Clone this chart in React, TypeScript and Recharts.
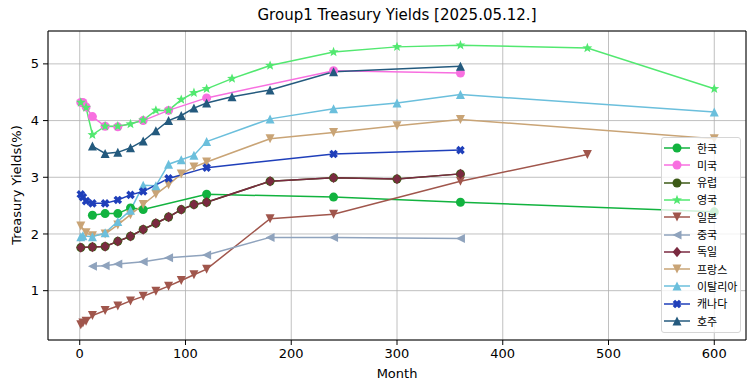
import React from 'react';
import { LineChart, Line, XAxis, YAxis, CartesianGrid, ReferenceArea } from 'recharts';

// maturities in months, yields in %
const krMonths = [12, 24, 36, 48, 60, 120, 240, 360, 600];
const krYields = [2.33, 2.36, 2.36, 2.46, 2.43, 2.7, 2.65, 2.56, 2.39];

const usMonths = [1, 3, 6, 12, 24, 36, 60, 84, 120, 240, 360];
const usYields = [4.32, 4.32, 4.24, 4.07, 3.9, 3.89, 4.0, 4.18, 4.4, 4.88, 4.84];

const ukMonths = [1, 6, 12, 24, 36, 48, 60, 72, 84, 96, 108, 120, 144, 180, 240, 300, 360, 480, 600];
const ukYields = [4.32, 4.23, 3.75, 3.9, 3.9, 3.94, 4.01, 4.18, 4.18, 4.37, 4.49, 4.56, 4.74, 4.97, 5.21, 5.3, 5.33, 5.28, 4.56];

const jpMonths = [1, 3, 6, 12, 24, 36, 48, 60, 72, 84, 96, 108, 120, 180, 240, 360, 480];
const jpYields = [0.4, 0.43, 0.46, 0.56, 0.65, 0.73, 0.82, 0.9, 0.99, 1.08, 1.18, 1.28, 1.38, 2.27, 2.35, 2.93, 3.4];

const cnMonths = [12, 24, 36, 60, 84, 120, 180, 240, 360];
const cnYields = [1.43, 1.44, 1.47, 1.51, 1.58, 1.63, 1.94, 1.94, 1.92];

const deMonths = [1, 12, 24, 36, 48, 60, 72, 84, 96, 108, 120, 180, 240, 300, 360];
const deYields = [1.76, 1.77, 1.78, 1.87, 1.96, 2.08, 2.19, 2.3, 2.43, 2.52, 2.56, 2.93, 2.99, 2.97, 3.06];

// 유럽 is hidden under 독일 (same curve)
const euMonths = deMonths;
const euYields = deYields;

const frMonths = [1, 6, 12, 24, 36, 48, 60, 72, 84, 96, 108, 120, 180, 240, 300, 360, 600];
const frYields = [2.14, 2.02, 1.97, 2.0, 2.16, 2.34, 2.52, 2.7, 2.87, 3.06, 3.18, 3.27, 3.68, 3.79, 3.91, 4.02, 3.68];

const itMonths = [1, 3, 12, 24, 36, 48, 60, 72, 84, 96, 108, 120, 180, 240, 300, 360, 600];
const itYields = [1.95, 1.97, 1.95, 2.02, 2.22, 2.42, 2.86, 2.85, 3.23, 3.31, 3.39, 3.63, 4.03, 4.21, 4.31, 4.46, 4.15];

const caMonths = [1, 3, 6, 12, 24, 36, 48, 60, 84, 120, 240, 360];
const caYields = [2.7, 2.65, 2.58, 2.54, 2.54, 2.6, 2.69, 2.75, 2.98, 3.17, 3.41, 3.48];

const auMonths = [12, 24, 36, 48, 60, 72, 84, 96, 108, 120, 144, 180, 240, 360];
const auYields = [3.55, 3.42, 3.44, 3.52, 3.64, 3.82, 4.0, 4.09, 4.22, 4.31, 4.42, 4.54, 4.86, 4.96];

const xTicks = [0, 100, 200, 300, 400, 500, 600];
const yTicks = [1, 2, 3, 4, 5];

const zip = (xs: number[], ys: number[]) => xs.map((x, i) => ({ x, y: ys[i] }));

type Shape = 'circle' | 'star' | 'tridown' | 'trileft' | 'triup' | 'diamond' | 'xfilled';

const SERIES: { name: string; color: string; shape: Shape; data: { x: number; y: number }[] }[] = [
  { name: '한국', color: '#12b33f', shape: 'circle', data: zip(krMonths, krYields) },
  { name: '미국', color: '#f86fe0', shape: 'circle', data: zip(usMonths, usYields) },
  { name: '유럽', color: '#3c5a16', shape: 'circle', data: zip(euMonths, euYields) },
  { name: '영국', color: '#52e870', shape: 'star', data: zip(ukMonths, ukYields) },
  { name: '일본', color: '#a0564c', shape: 'tridown', data: zip(jpMonths, jpYields) },
  { name: '중국', color: '#8fa3bd', shape: 'trileft', data: zip(cnMonths, cnYields) },
  { name: '독일', color: '#7a2a40', shape: 'diamond', data: zip(deMonths, deYields) },
  { name: '프랑스', color: '#c9a476', shape: 'tridown', data: zip(frMonths, frYields) },
  { name: '이탈리아', color: '#6bbfdc', shape: 'triup', data: zip(itMonths, itYields) },
  { name: '캐나다', color: '#1f3fba', shape: 'xfilled', data: zip(caMonths, caYields) },
  { name: '호주', color: '#245a7e', shape: 'triup', data: zip(auMonths, auYields) },
];

const FONT = '"DejaVu Sans", sans-serif';

function starPoints(cx: number, cy: number, ro: number, ri: number) {
  const pts: string[] = [];
  for (let i = 0; i < 10; i++) {
    const r = i % 2 === 0 ? ro : ri;
    const a = -Math.PI / 2 + (i * Math.PI) / 5;
    pts.push(`${cx + r * Math.cos(a)},${cy + r * Math.sin(a)}`);
  }
  return pts.join(' ');
}

function xPoints(cx: number, cy: number, a: number, e: number) {
  const base = [
    [a, e], [a, a], [e, a], [e, -a], [a, -a], [a, -e],
    [-a, -e], [-a, -a], [-e, -a], [-e, a], [-a, a], [-a, e],
  ];
  return base
    .map(([x, y]) => `${cx + (x - y) / Math.SQRT2},${cy + (x + y) / Math.SQRT2}`)
    .join(' ');
}

const Marker = ({ cx, cy, shape, color }: { cx: number; cy: number; shape: Shape; color: string }) => {
  if (cx == null || cy == null) return null;
  const r = 4.5;
  switch (shape) {
    case 'circle':
      return <circle cx={cx} cy={cy} r={r} fill={color} />;
    case 'star':
      return <polygon points={starPoints(cx, cy, 5.2, 2.2)} fill={color} />;
    case 'tridown':
      return <polygon points={`${cx - r},${cy - r} ${cx + r},${cy - r} ${cx},${cy + r}`} fill={color} />;
    case 'triup':
      return <polygon points={`${cx - r},${cy + r} ${cx + r},${cy + r} ${cx},${cy - r}`} fill={color} />;
    case 'trileft':
      return <polygon points={`${cx + r},${cy - r} ${cx + r},${cy + r} ${cx - r},${cy}`} fill={color} />;
    case 'diamond':
      return <polygon points={`${cx},${cy - 5.2} ${cx + 4.4},${cy} ${cx},${cy + 5.2} ${cx - 4.4},${cy}`} fill={color} />;
    case 'xfilled':
      return <polygon points={xPoints(cx, cy, 1.7, 4.4)} fill={color} />;
  }
  return null;
};

const LegendBox = () => (
  <div
    style={{
      position: 'absolute',
      left: 661,
      top: 137,
      width: 80,
      height: 196,
      background: 'rgba(255,255,255,0.8)',
      border: '1px solid #d6d6d6',
      borderRadius: 3,
      boxSizing: 'border-box',
    }}
  >
    {SERIES.map((s, i) => (
      <div
        key={s.name}
        style={{ position: 'absolute', left: 1, top: 1.5 + i * 17.3, height: 17, display: 'flex', alignItems: 'center' }}
      >
        <svg width={28} height={14}>
          <line x1={1} y1={7} x2={27} y2={7} stroke={s.color} strokeWidth={1.5} />
          <Marker cx={14} cy={7} shape={s.shape} color={s.color} />
        </svg>
        <span
          style={{
            marginLeft: 6,
            fontSize: 11,
            fontFamily: '"Noto Sans CJK KR", sans-serif',
            color: '#000',
            lineHeight: '17px',
          }}
        >
          {s.name}
        </span>
      </div>
    ))}
  </div>
);

export default function App() {
  return (
    <div style={{ position: 'absolute', left: 0, top: 0, width: 755, height: 391, background: '#fff' }}>
      <div
        style={{
          position: 'absolute',
          left: 48,
          width: 698,
          top: 6,
          textAlign: 'center',
          fontFamily: FONT,
          fontSize: 15,
          color: '#000',
        }}
      >
        Group1 Treasury Yields [2025.05.12.]
      </div>
      <LineChart width={755} height={391} margin={{ top: 31, right: 9, left: 0, bottom: 0 }}>
        <CartesianGrid stroke="#b0b0b0" strokeWidth={0.8} />
        <XAxis
          dataKey="x"
          type="number"
          domain={[-30, 630]}
          ticks={xTicks}
          allowDataOverflow
          height={51}
          tickSize={5}
          tickMargin={4}
          axisLine={false}
          tickLine={{ stroke: '#000' }}
          tick={{ fontSize: 13, fill: '#000', fontFamily: FONT }}
        />
        <YAxis
          type="number"
          domain={[0.13, 5.58]}
          ticks={yTicks}
          allowDataOverflow
          width={48}
          tickSize={5}
          tickMargin={4}
          axisLine={false}
          tickLine={{ stroke: '#000' }}
          tick={{ fontSize: 13, fill: '#000', fontFamily: FONT }}
        />
        <ReferenceArea x1={-30} x2={630} y1={0.13} y2={5.58} fill="none" stroke="#000" strokeWidth={1} />
        {SERIES.map((s) => (
          <Line
            key={s.name}
            data={s.data}
            dataKey="y"
            name={s.name}
            type="linear"
            stroke={s.color}
            strokeWidth={1.5}
            isAnimationActive={false}
            activeDot={false}
            dot={(p: any) => <Marker key={`${s.name}-${p.index}`} cx={p.cx} cy={p.cy} shape={s.shape} color={s.color} />}
          />
        ))}
      </LineChart>
      <div
        style={{
          position: 'absolute',
          left: 48,
          width: 698,
          top: 366,
          textAlign: 'center',
          fontFamily: FONT,
          fontSize: 13,
          color: '#000',
        }}
      >
        Month
      </div>
      <div
        style={{
          position: 'absolute',
          left: 16,
          top: 185,
          transform: 'translate(-50%, -50%) rotate(-90deg)',
          whiteSpace: 'nowrap',
          fontFamily: FONT,
          fontSize: 13,
          color: '#000',
        }}
      >
        Treasury Yields(%)
      </div>
      <LegendBox />
    </div>
  );
}
